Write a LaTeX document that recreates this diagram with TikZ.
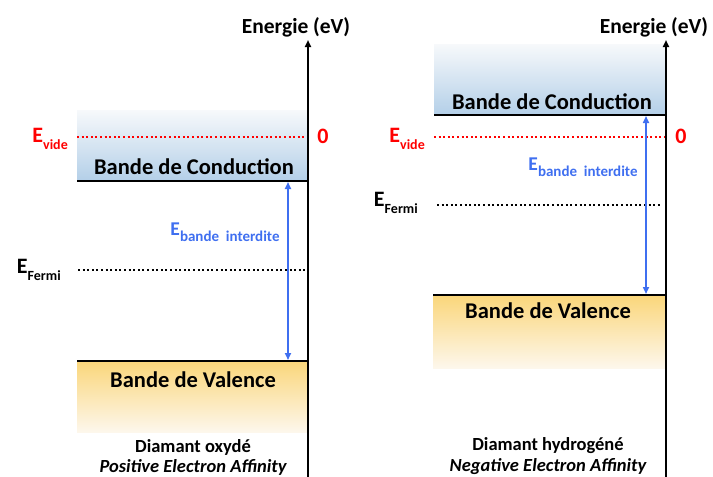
\documentclass[tikz,border=0pt]{standalone}
\usepackage{fontspec}
\setmainfont{Carlito}
\usetikzlibrary{arrows.meta}
\definecolor{evred}{HTML}{FF0000}
\definecolor{gapblue}{HTML}{3F6FF0}
\definecolor{cbtop}{HTML}{F7F9FB}
\definecolor{cbbot}{HTML}{B3CFE8}
\definecolor{vbtop}{HTML}{FAD67A}
\definecolor{vbbot}{HTML}{FDF7EC}
\newcommand\esub[2]{E\raisebox{-0.3em}{\fontsize{#2}{#2}\selectfont #1}}
\tikzset{
  bandtxt/.style={font=\bfseries\fontsize{22.5}{22.5}\selectfont, inner sep=0pt},
  axtxt/.style={font=\bfseries\fontsize{21.5}{21.5}\selectfont, inner sep=0pt},
  captxt/.style={font=\bfseries\fontsize{18.5}{18.5}\selectfont, inner sep=0pt, align=center},
  lvltxt/.style={font=\bfseries\fontsize{22}{22}\selectfont, inner sep=0pt},
  gaptxt/.style={font=\bfseries\fontsize{19.5}{19.5}\selectfont, inner sep=0pt, text=gapblue},
  axisline/.style={line width=2pt, -{Triangle[length=7pt,width=6pt]}},
  bandline/.style={line width=2pt},
  vacline/.style={evred, line width=2pt, dash pattern=on 2pt off 2.6pt},
  fermiline/.style={black, line width=2pt, dash pattern=on 2pt off 2.6pt},
  gaparrow/.style={gapblue, line width=1.6pt, {Triangle[length=7pt,width=6pt]}-{Triangle[length=7pt,width=6pt]}},
}
\begin{document}
\begin{tikzpicture}[x=1pt,y=-1pt]
\useasboundingbox (0,0) rectangle (713,477);
% ---------- left: oxidised diamond ----------
\shade[top color=cbtop, bottom color=cbbot] (77,110) rectangle (307,181);
\shade[top color=vbtop, bottom color=vbbot] (77,361) rectangle (307,432);
\coordinate (lcbA) at (77,181); \coordinate (lcbB) at (308,181);
\coordinate (lvbA) at (77,361); \coordinate (lvbB) at (308,361);
\draw[bandline] (lcbA) -- (lcbB);
\draw[bandline] (lvbA) -- (lvbB);
\coordinate (lvacA) at (77,137); \coordinate (lvacB) at (307,137);
\draw[vacline] (lvacA) -- (lvacB);
\coordinate (lfA) at (78,270); \coordinate (lfB) at (307,270);
\draw[fermiline] (lfA) -- (lfB);
\coordinate (lgapT) at (288,182); \coordinate (lgapB) at (288,360);
\draw[gaparrow] (lgapT) -- (lgapB);
\coordinate (laxB) at (308,477); \coordinate (laxT) at (308,40);
\draw[axisline] (laxB) -- (laxT);
\node[axtxt] (lener) at (296,27) {Energie (eV)};
\node[bandtxt] (lcb) at (194,167) {Bande de Conduction};
\node[bandtxt] (lvb) at (193,380) {Bande de Valence};
\node[lvltxt, text=evred, anchor=east] (lvac) at (68,139) {\esub{vide}{14}};
\node[lvltxt, text=evred] (lzero) at (323,136) {0};
\node[lvltxt, anchor=east] (lfermi) at (61,270) {\esub{Fermi}{14}};
\node[gaptxt] (lgap) at (225,232) {\esub{bande\ \ interdite}{15}};
\node[captxt] (lcap1) at (193,447) {Diamant oxydé};
\node[captxt] (lcap2) at (193,467) {\itshape Positive Electron Affinity};
% ---------- right: hydrogenated diamond ----------
\shade[top color=cbtop, bottom color=cbbot] (434,44) rectangle (665,115);
\shade[top color=vbtop, bottom color=vbbot] (433,295) rectangle (665,368);
\coordinate (rcbA) at (434,115); \coordinate (rcbB) at (666,115);
\coordinate (rvbA) at (433,295); \coordinate (rvbB) at (666,295);
\draw[bandline] (rcbA) -- (rcbB);
\draw[bandline] (rvbA) -- (rvbB);
\coordinate (rvacA) at (434,137); \coordinate (rvacB) at (665,137);
\draw[vacline] (rvacA) -- (rvacB);
\coordinate (rfA) at (437,205); \coordinate (rfB) at (662,205);
\draw[fermiline] (rfA) -- (rfB);
\coordinate (rgapT) at (646,116); \coordinate (rgapB) at (646,294);
\draw[gaparrow] (rgapT) -- (rgapB);
\coordinate (raxB) at (666,477); \coordinate (raxT) at (666,40);
\draw[axisline] (raxB) -- (raxT);
\node[axtxt] (rener) at (654,27) {Energie (eV)};
\node[bandtxt] (rcb) at (552,102) {Bande de Conduction};
\node[bandtxt] (rvb) at (548,311) {Bande de Valence};
\node[lvltxt, text=evred, anchor=east] (rvac) at (425,139) {\esub{vide}{14}};
\node[lvltxt, text=evred] (rzero) at (681,136) {0};
\node[lvltxt, anchor=east] (rfermi) at (418,203) {\esub{Fermi}{14}};
\node[gaptxt] (rgap) at (583,167) {\esub{bande\ \ interdite}{15}};
\node[captxt] (rcap1) at (548,446) {Diamant hydrogéné};
\node[captxt] (rcap2) at (548,467) {\itshape Negative Electron Affinity};
\end{tikzpicture}
\end{document}
